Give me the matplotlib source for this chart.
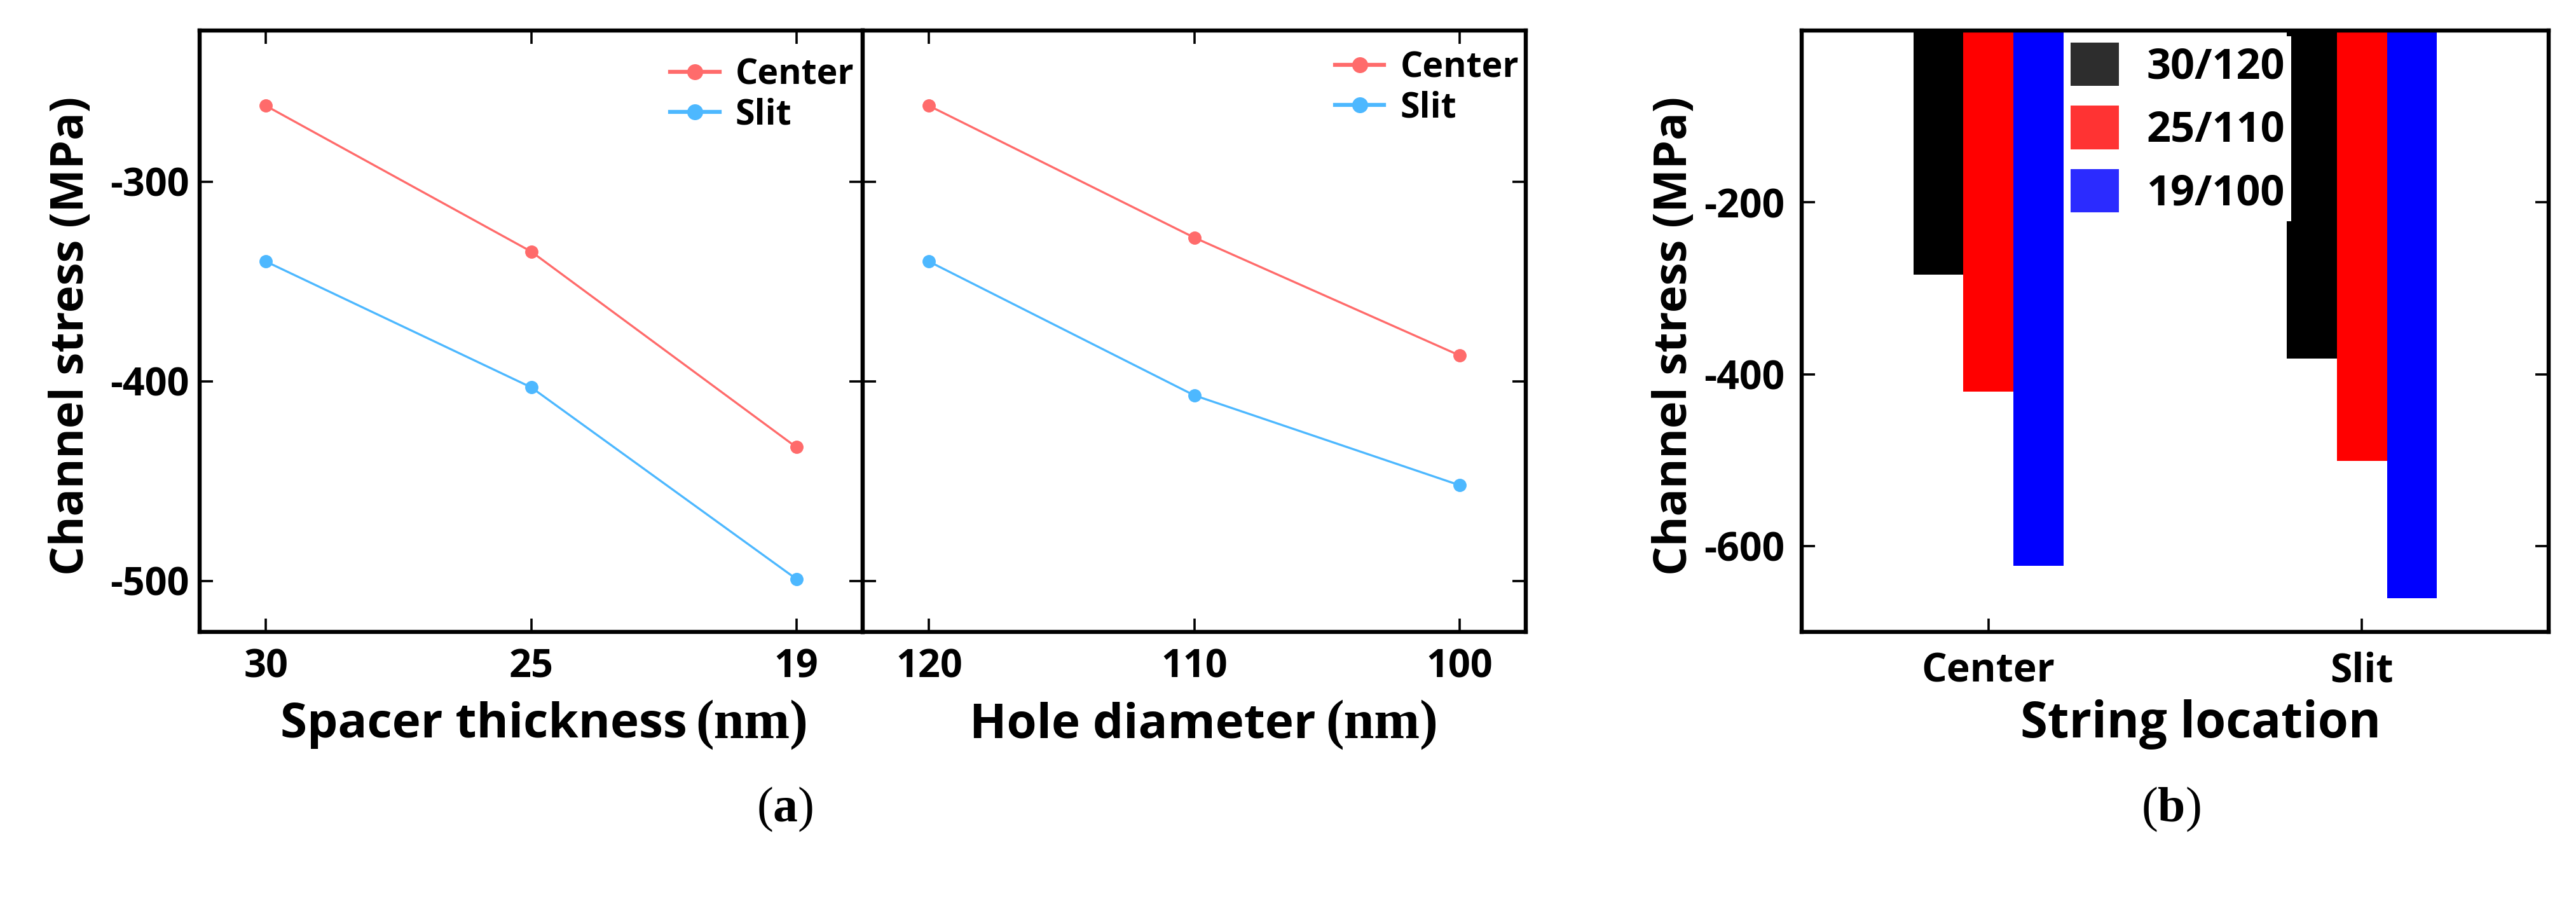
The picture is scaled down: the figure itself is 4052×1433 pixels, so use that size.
import matplotlib
matplotlib.use('Agg')
import matplotlib.pyplot as plt
from matplotlib.patches import Patch
import numpy as np

plt.rcParams['font.family'] = ['Open Sans', 'Noto Sans CJK KR', 'DejaVu Sans']
plt.rcParams['font.weight'] = 'bold'
plt.rcParams['axes.unicode_minus'] = False
plt.rcParams['mathtext.fontset'] = 'custom'
plt.rcParams['mathtext.rm'] = 'Liberation Serif'
plt.rcParams['mathtext.bf'] = 'Liberation Serif:bold'

# ---------------- data ----------------
spacer_labels = ['30', '25', '19']
hole_labels = ['120', '110', '100']
center_vs_spacer = [-262, -335, -433]
slit_vs_spacer = [-340, -403, -499]
center_vs_hole = [-262, -328, -387]
slit_vs_hole = [-340, -407, -452]

locations = ['Center', 'Slit']
bar_series = ['30/120', '25/110', '19/100']
stress_30_120 = [-284, -382]
stress_25_110 = [-420, -501]
stress_19_100 = [-623, -661]

line_colors = {'Center': '#FF6B6B', 'Slit': '#4DB8FF'}
bar_colors = ['#000000', '#FF0000', '#0000FF']
legend_colors = ['#2D2D2D', '#FF3333', '#2B2BFF']

# ---------------- layout ----------------
W, H = 4052, 1433
fig = plt.figure(figsize=(W / 100, H / 100), dpi=100)


def rect(x0, x1, y0, y1):
    return [x0 / W, 1 - y1 / H, (x1 - x0) / W, (y1 - y0) / H]


ax1 = fig.add_axes(rect(314, 1357, 48, 994))
ax2 = fig.add_axes(rect(1357, 2400, 48, 994))
ax3 = fig.add_axes(rect(2834, 4009, 48, 994))

SPINE_LW = 4.6


def style(ax, top=True, fs=44, pad_x=18, pad_y=12):
    for s in ax.spines.values():
        s.set_linewidth(SPINE_LW)
    ax.tick_params(axis='both', which='major', direction='in', length=15,
                   width=2.6, top=top, right=True, labelsize=fs)
    ax.tick_params(axis='x', pad=pad_x)
    ax.tick_params(axis='y', pad=pad_y)


# ---- panel (a): line charts ----
x = np.arange(len(spacer_labels))
for ax, labels, cvals, svals in [(ax1, spacer_labels, center_vs_spacer, slit_vs_spacer),
                                 (ax2, hole_labels, center_vs_hole, slit_vs_hole)]:
    ax.plot(x, cvals, '-o', color=line_colors['Center'], lw=2.4, ms=14, label='Center')
    ax.plot(x, svals, '-o', color=line_colors['Slit'], lw=2.4, ms=14, label='Slit')
    ax.set_xlim(-0.25, 2.25)
    ax.set_ylim(-525.5, -224.3)
    ax.set_xticks(x)
    ax.set_xticklabels(labels)
    ax.set_yticks([-300, -400, -500])
    style(ax)

ax2.set_yticklabels([])

leg1 = ax1.legend(loc='upper left', bbox_to_anchor=(0.7095, 0.955), frameon=False,
                  fontsize=40, handlelength=1.4, handletextpad=0.45, borderpad=0,
                  borderaxespad=0, labelspacing=0.15, numpoints=1)
leg2 = ax2.legend(loc='upper left', bbox_to_anchor=(0.712, 0.967), frameon=False,
                  fontsize=40, handlelength=1.4, handletextpad=0.45, borderpad=0,
                  borderaxespad=0, labelspacing=0.15, numpoints=1)
for lg in (leg1, leg2):
    for h in lg.legend_handles:
        h.set_linewidth(4.5)
        h.set_markersize(17)

XL_Y = -0.1755
ax1.text(0.1219, XL_Y, 'Spacer thickness', transform=ax1.transAxes, ha='left',
         va='baseline', fontsize=55, fontweight='bold')
ax1.text(0.7480, XL_Y, '(nm)', transform=ax1.transAxes, ha='left', va='baseline',
         fontsize=62, family='Liberation Serif', fontweight='bold')
ax2.text(0.1611, XL_Y, 'Hole diameter', transform=ax2.transAxes, ha='left',
         va='baseline', fontsize=55, fontweight='bold')
ax2.text(0.698, XL_Y, '(nm)', transform=ax2.transAxes, ha='left', va='baseline',
         fontsize=62, family='Liberation Serif', fontweight='bold')

fig.text(112 / W, 1 - 528 / H, 'Channel stress (MPa)', rotation=90, ha='center',
         va='center', fontsize=52, fontweight='bold')

# ---- panel (b): bars ----
xb = np.arange(len(locations))
bw = 0.134
for i, (vals, col) in enumerate(zip([stress_30_120, stress_25_110, stress_19_100], bar_colors)):
    ax3.bar(xb + (i - 1) * bw, vals, width=bw, color=col, edgecolor='none')
ax3.set_xlim(-0.5, 1.5)
ax3.set_ylim(-700, 0)
ax3.set_xticks(xb)
ax3.set_xticklabels(locations)
ax3.set_yticks([-200, -400, -600])
style(ax3, top=False, fs=45, pad_x=22, pad_y=19)

handles = [Patch(facecolor=c, edgecolor='none') for c in legend_colors]
ax3.legend(handles, bar_series, loc='upper left',
           bbox_to_anchor=((3247 - 2834) / 1175, (994 - 57) / 946),
           fontsize=48, handlelength=1.14, handleheight=1.2, handletextpad=0.65,
           labelspacing=0.4, borderpad=0.15, borderaxespad=0, frameon=True,
           fancybox=False, framealpha=1, edgecolor='none', facecolor='white')

ax3.text(0.5345, XL_Y, 'String location', transform=ax3.transAxes, ha='center',
         va='baseline', fontsize=56, fontweight='bold')
fig.text(2634 / W, 1 - 528 / H, 'Channel stress (MPa)', rotation=90, ha='center',
         va='center', fontsize=52, fontweight='bold')

# ---- panel captions ----
fig.text(1235 / W, 1 - 1292 / H, r'($\mathbf{a}$)', ha='center', va='baseline',
         fontsize=56, family='Liberation Serif', fontweight='normal')
fig.text(3415 / W, 1 - 1292 / H, r'($\mathbf{b}$)', ha='center', va='baseline',
         fontsize=56, family='Liberation Serif', fontweight='normal')

fig.savefig('out.png', dpi=100, facecolor='white')
